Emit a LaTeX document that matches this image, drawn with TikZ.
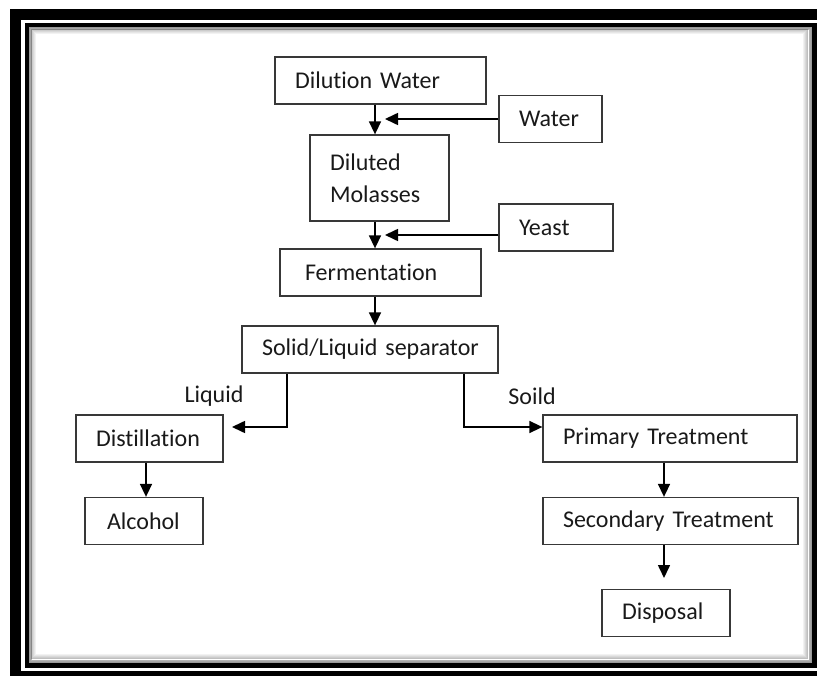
\documentclass[tikz,border=0pt]{standalone}
\usepackage{fontspec}
\setmainfont{Carlito}[Ligatures=NoCommon]
\usepackage{xcolor}
\usetikzlibrary{arrows.meta}
\definecolor{boxline}{gray}{0.22}
\definecolor{labeltext}{gray}{0.1}
\DeclareRobustCommand{\boxfont}{\fontsize{24}{32}\selectfont\spaceskip=3.5pt\relax}
\tikzset{
  box/.style={draw=boxline, line width=1.3pt, rectangle, align=left, inner xsep=20pt, inner ysep=0pt, minimum height=47pt, text=labeltext, font=\boxfont},
  flow/.style={-{Triangle[length=13pt, width=12pt]}, line width=1.6pt},
  lbl/.style={text=labeltext, font=\boxfont}
}

\begin{document}
\begin{tikzpicture}[x=1pt, y=-1pt]
\useasboundingbox (0,0) rectangle (817,676);
\clip (0,0) rectangle (817,676);
% frame
\draw[line width=11pt] (15.5,14.5) rectangle (835,676.5);
\draw[line width=4.5pt] (26.75,25) rectangle (814.5,665.5);
\foreach \i in {1,...,8}
  \draw[black, opacity={0.45-0.05*\i}, line width=1pt] ({28.6+0.8*\i},{26.8+0.8*\i}) rectangle ({812.6-1.2*\i},{663.6-1.2*\i});

\node[box, text width=171pt] (dil_water) at (380.5,80.5) {Dilution Water};
\node[box, text width=63pt] (water) at (550.5,119) {Water};
\node[box, text width=99pt, minimum height=86pt] (dil_mol) at (379.5,178) {Diluted\\Molasses\\[6pt]};
\node[box, text width=74pt] (yeast) at (556,227.5) {Yeast};
\node[box, inner xsep=25pt, text width=151pt] (ferment) at (380.5,272.5) {Fermentation};
\node[box, text width=216pt] (separator) at (370,349.5) {\mbox{Solid/Liquid separator}};
\node[box, text width=107pt] (distill) at (149.5,438.5) {Distillation};
\node[box, inner xsep=22pt, text width=74pt] (alcohol) at (144,521) {Alcohol};
\node[box, text width=214pt] (primary) at (670,438.5) {Primary Treatment};
\node[box, text width=215pt] (secondary) at (670.5,521) {\mbox{Secondary Treatment}};
\node[box, text width=88pt] (disposal) at (666,613) {Disposal};
\node[lbl] (liquid_lbl) at (214,396) {Liquid};
\node[lbl] (soild_lbl) at (532,396) {Soild};

\coordinate (spine) at (375,0);
\coordinate (water_in) at (385,119);
\coordinate (yeast_in) at (385,235);
\coordinate (liquid_x) at (287,0);
\coordinate (liquid_end) at (232,427);
\coordinate (solid_x) at (464,0);
\coordinate (dist_x) at (146,0);
\coordinate (treat_x) at (664,0);
\coordinate (disposal_end) at (664,578);

\draw[flow] (dil_water.south -| spine) -- (dil_mol.north -| spine);
\draw[flow] (water.west) -- (water_in);
\draw[flow] (dil_mol.south -| spine) -- (ferment.north -| spine);
\draw[flow] (yeast.west |- yeast_in) -- (yeast_in);
\draw[flow] (ferment.south -| spine) -- (separator.north -| spine);
\draw[flow] (separator.south -| liquid_x) |- (liquid_end);
\draw[flow] (separator.south -| solid_x) |- (primary.west |- liquid_end);
\draw[flow] (distill.south -| dist_x) -- (alcohol.north -| dist_x);
\draw[flow] (primary.south -| treat_x) -- (secondary.north -| treat_x);
\draw[flow] (secondary.south -| treat_x) -- (disposal_end);
\end{tikzpicture}
\end{document}
